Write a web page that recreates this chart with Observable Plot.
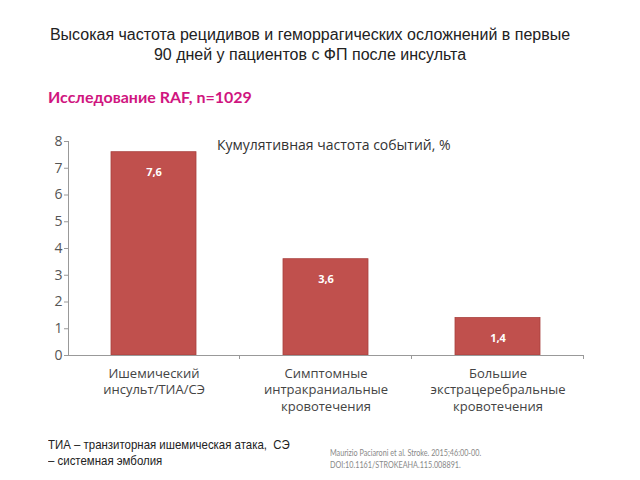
<!DOCTYPE html>
<html><head><meta charset="utf-8">
<script src="https://cdn.jsdelivr.net/npm/d3@7"></script>
<script src="https://cdn.jsdelivr.net/npm/@observablehq/plot@0.6"></script>
<style>
body{margin:0;background:#fff;}
#wrap{position:relative;width:640px;height:480px;overflow:hidden;font-family:"Liberation Sans",Arial,sans-serif;}
.abs{position:absolute;white-space:nowrap;}
#title{left:0;width:620px;top:25px;text-align:center;font-size:16px;line-height:20px;color:#222;}
#sub{left:48px;top:87px;font-size:16px;font-weight:bold;color:#d0157f;font-family:Lato,"Open Sans",sans-serif;}
#ctitle{left:217px;top:135px;font-size:14px;color:#333;font-family:"Open Sans",Lato,sans-serif;}
#foot{left:48px;top:437px;font-size:13px;line-height:16px;color:#222;transform:scaleX(0.88);transform-origin:0 0;}
#cite{left:330px;top:447px;font-size:8.5px;line-height:12px;color:#888;font-family:Lato,"Open Sans",sans-serif;transform:scaleX(0.85);transform-origin:0 0;}
#chart{position:absolute;left:0;top:0;}
</style></head>
<body>
<div id="wrap">
  <div id="chart"></div>
  <div id="title" class="abs">Высокая частота рецидивов и геморрагических осложнений в первые<br>90 дней у пациентов с ФП после инсульта</div>
  <div id="sub" class="abs">Исследование RAF, n=1029</div>
  <div id="ctitle" class="abs">Кумулятивная частота событий, %</div>
  <div id="foot" class="abs">ТИА – транзиторная ишемическая атака,&nbsp; СЭ<br>– системная эмболия</div>
  <div id="cite" class="abs">Maurizio Paciaroni et al. Stroke. 2015;46:00-00.<br>DOI:10.1161/STROKEAHA.115.008891.</div>
</div>
<script>
const categories = ["Ишемический\nинсульт/ТИА/СЭ", "Симптомные\nинтракраниальные\nкровотечения", "Большие\nэкстрацеребральные\nкровотечения"];
const values = [7.6, 3.6, 1.4];
const valueLabels = ["7,6", "3,6", "1,4"];
const yTicks = [0, 1, 2, 3, 4, 5, 6, 7, 8];

const data = categories.map((c, i) => ({cat: c, value: values[i], label: valueLabels[i]}));

const chart = Plot.plot({
  width: 640,
  height: 480,
  marginLeft: 68,
  marginRight: 56,
  marginTop: 141,
  marginBottom: 125,
  style: {fontFamily: "'Open Sans', Lato, sans-serif", background: "transparent"},
  x: {domain: categories, paddingInner: 0.505, paddingOuter: 0.2525, label: null, axis: null},
  y: {domain: [0, 8], label: null, axis: null},
  marks: [
    Plot.barY(data, {x: "cat", y: "value", fill: "#c0504d", stroke: "#a8403d", strokeWidth: 0.8}),
    Plot.text(data, {x: "cat", y: "value", text: "label", dy: 20, fill: "white", fontWeight: "bold", fontSize: 11}),
    Plot.axisY({ticks: yTicks, tickFormat: d => d, tickSize: 4, tickPadding: 2, fontSize: 14, color: "#555", stroke: "#999", label: null}),
    Plot.frame({anchor: "left", stroke: "#999"}),
    Plot.axisX({tickSize: 0, tickPadding: 10, fontSize: 13, color: "#444", lineHeight: 1.3, lineWidth: 30, label: null}),
    Plot.ruleY([0], {stroke: "#999"})
  ]
});
document.getElementById("chart").appendChild(chart);

// Category separator ticks below the baseline, positioned from the band scale
const xs = chart.scale("x");
const ys = chart.scale("y");
const y0 = ys.apply(0);
const half = (xs.step - xs.bandwidth) / 2;
const g = d3.select(chart).append("g").attr("stroke", "#999");
categories.forEach((c) => {
  const xr = xs.apply(c) + xs.bandwidth + half;
  g.append("line").attr("x1", xr).attr("x2", xr).attr("y1", y0).attr("y2", y0 + 4);
});
</script>
</body></html>
